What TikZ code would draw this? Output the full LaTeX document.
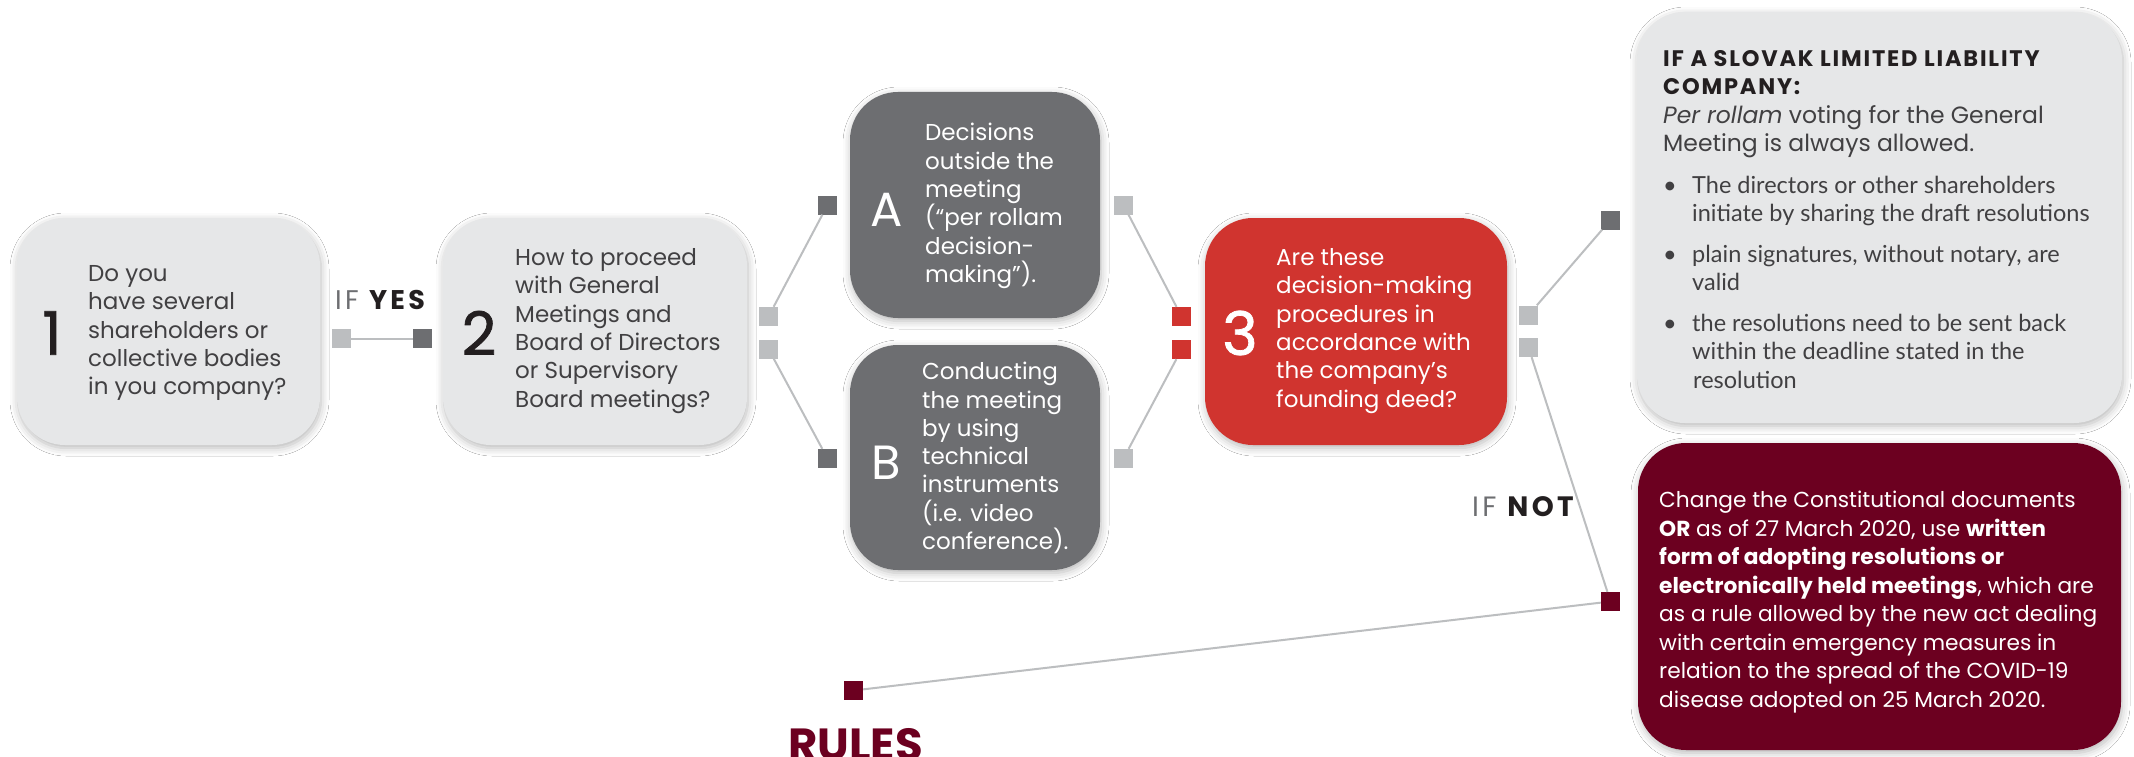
\documentclass[tikz,border=0pt]{standalone}
\usepackage{fontspec}
\setmainfont{Poppins}
\newfontfamily\bulletfont{Lato}
\newfontfamily\numfont[FakeBold=1.2]{Poppins}
\newfontfamily\headfont[LetterSpace=12]{Poppins}
\newfontfamily\titlefont[LetterSpace=8]{Poppins}
\usetikzlibrary{shadows.blur}
\definecolor{boxgray}{HTML}{E6E7E8}
\definecolor{darkgray}{HTML}{6D6E71}
\definecolor{boxred}{HTML}{D0342F}
\definecolor{wine}{HTML}{6C0020}
\definecolor{sqgray}{HTML}{BCBEC0}
\definecolor{txtgray}{HTML}{414042}
\definecolor{numblack}{HTML}{231F20}
\begin{document}
\begin{tikzpicture}[x=1pt,y=-1pt,
  card/.style={rounded corners=48pt, inner sep=0pt, draw=none,
    blur shadow={shadow xshift=1pt, shadow yshift=-3pt, shadow blur radius=8pt, shadow opacity=28}},
  sqnode/.style={minimum size=19pt, inner sep=0pt, draw=none},
  conn/.style={draw=sqgray, line width=2pt},
  bodytxt/.style={anchor=west, align=left, inner sep=0pt, font=\fontsize{23}{28.3}\selectfont},
  bignum/.style={inner sep=0pt, font=\numfont\fontsize{60}{60}\selectfont},
  letnum/.style={inner sep=0pt, text=white, font=\fontsize{48}{48}\selectfont},
]
\useasboundingbox (0,0) rectangle (2134,757);
\fill[white] (0,0) rectangle (2134,757);

% boxes
\node[card, fill=boxgray, minimum width=303pt, minimum height=227pt] (b1) at (168.5,331.5) {};
\node[card, fill=boxgray, minimum width=304pt, minimum height=227pt] (b2) at (595,331.5) {};
\node[card, fill=darkgray, minimum width=250pt, minimum height=226pt] (bA) at (975,205) {};
\node[card, fill=darkgray, minimum width=250pt, minimum height=225pt] (bB) at (975,457.5) {};
\node[card, fill=boxred, minimum width=302pt, minimum height=227pt] (b3) at (1356,331.5) {};
\node[card, fill=boxgray, minimum width=485pt, minimum height=411pt] (bS) at (1879.5,217.5) {};
\node[card, fill=wine, minimum width=483pt, minimum height=307pt] (bR) at (1879.5,596.5) {};

% squares
\node[sqnode, fill=sqgray] (s1r) at (341.5,338.5) {};
\node[sqnode, fill=darkgray] (s2l) at (422.5,338.5) {};
\node[sqnode, fill=sqgray] (s2a) at (768.5,316.5) {};
\node[sqnode, fill=sqgray] (s2b) at (768.5,349) {};
\node[sqnode, fill=darkgray] (sAl) at (827.5,205) {};
\node[sqnode, fill=sqgray] (sAr) at (1123.5,205) {};
\node[sqnode, fill=darkgray] (sBl) at (827.5,458.5) {};
\node[sqnode, fill=sqgray] (sBr) at (1123.5,458.5) {};
\node[sqnode, fill=boxred] (s3a) at (1181.5,316.5) {};
\node[sqnode, fill=boxred] (s3b) at (1181.5,349.5) {};
\node[sqnode, fill=sqgray] (s3c) at (1528.5,315) {};
\node[sqnode, fill=sqgray] (s3d) at (1528.5,347.5) {};
\node[sqnode, fill=darkgray] (sS) at (1610.5,220) {};
\node[sqnode, fill=wine] (sR) at (1610.5,601.5) {};
\node[sqnode, fill=wine] (sRules) at (853.5,690.5) {};

% connectors
\draw[conn] (s1r) -- (s2l);
\draw[conn] (s2a) -- (sAl);
\draw[conn] (s2b) -- (sBl);
\draw[conn] (sAr) -- (s3a);
\draw[conn] (sBr) -- (s3b);
\draw[conn] (s3c) -- (sS);
\draw[conn] (s3d) -- (sR);
\draw[conn] (sR) -- (sRules);

% box 1
\node[bignum, text=numblack] (n1) at (52,333) {1};
\node[bodytxt, text=txtgray] (t1) at (88,333) {Do you\\have several\\shareholders or\\collective bodies\\in you company?};
% box 2
\node[bignum, text=numblack] (n2) at (479,333) {2};
\node[bodytxt, text=txtgray] (t2) at (515,331) {How to proceed\\with General\\Meetings and\\Board of Directors\\or Supervisory\\Board meetings?};
% box A
\node[letnum] (nA) at (887,210) {A};
\node[bodytxt, text=white] (tA) at (925,206) {Decisions\\outside the\\meeting\\(“per rollam\\decision-\\making”).};
% box B
\node[letnum] (nB) at (886,463) {B};
\node[bodytxt, text=white] (tB) at (922,458) {Conducting\\the meeting\\by using\\technical\\instruments\\(i.e. video\\conference).};
% box 3
\node[bignum, text=white] (n3) at (1240,333) {3};
\node[bodytxt, text=white] (t3) at (1276,331) {Are these\\decision-making\\procedures in\\accordance with\\the company’s\\founding deed?};

% labels
\node[inner sep=0pt, anchor=west, font=\headfont\fontsize{27}{27}\selectfont] (lyes) at (335,300) {\textcolor{darkgray}{IF} \textcolor{numblack}{\bfseries YES}};
\node[inner sep=0pt, anchor=west, font=\headfont\fontsize{28}{28}\selectfont] (lnot) at (1472,507) {\textcolor{darkgray}{IF} \textcolor{numblack}{\bfseries NOT}};
\node[inner sep=0pt, anchor=base west, text=wine, font=\fontsize{45}{45}\selectfont\bfseries] (lrules) at (788,760) {RULES};

% Slovak box text
\node[anchor=north west, align=left, inner sep=0pt, text=txtgray, font=\fontsize{23.5}{28.5}\selectfont] (tS) at (1663,50) {%
{\titlefont\bfseries\fontsize{22.5}{28.5}\selectfont\color{numblack}IF A SLOVAK LIMITED LIABILITY}\\
{\titlefont\bfseries\fontsize{22.5}{28.5}\selectfont\color{numblack}COMPANY:}\\
\textit{Per rollam} voting for the General\\
Meeting is always allowed.\\[13pt]
{\bulletfont\makebox[29pt][l]{•}The directors or other shareholders}\\
{\bulletfont\hspace*{29pt}initiate by sharing the draft resolutions}\\[12pt]
{\bulletfont\makebox[29pt][l]{•}plain signatures, without notary, are}\\
{\bulletfont\hspace*{29pt}valid}\\[12pt]
{\bulletfont\makebox[29pt][l]{•}the resolutions need to be sent back}\\
{\bulletfont\hspace*{29pt}within the deadline stated in the}\\
{\bulletfont\hspace*{30pt}resolution}};

% wine box text
\node[bodytxt, text=white, font=\fontsize{21.7}{28.5}\selectfont] (tR) at (1659,602) {%
Change the Constitutional documents\\
\textbf{OR} as of 27 March 2020, use \textbf{written}\\
\textbf{form of adopting resolutions or}\\
\textbf{electronically held meetings}, which are\\
as a rule allowed by the new act dealing\\
with certain emergency measures in\\
relation to the spread of the COVID-19\\
disease adopted on 25 March 2020.};
\end{tikzpicture}
\end{document}
